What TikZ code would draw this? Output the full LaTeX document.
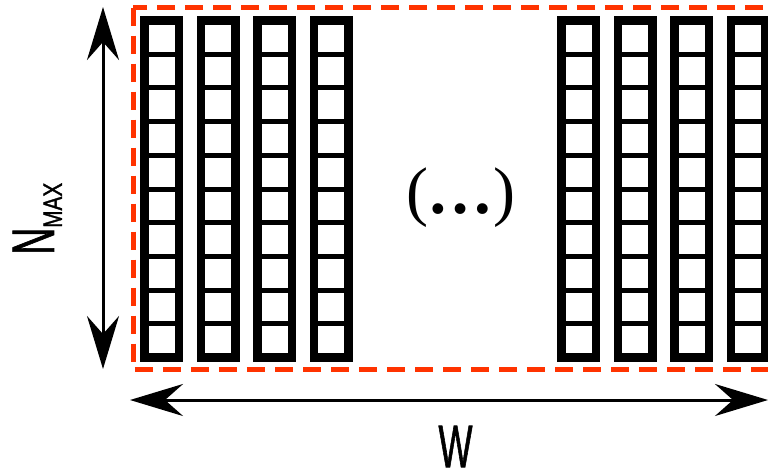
\documentclass[tikz,border=0pt]{standalone}
\usepackage{fontspec}
\setmainfont{Liberation Sans}
\newfontfamily\romana{Liberation Serif}
\newfontfamily\rotulo[FakeBold=1.5]{Liberation Sans}
\usetikzlibrary{arrows.meta}
\definecolor{rojo}{RGB}{255,51,0}

\begin{document}
\begin{tikzpicture}[x=0.5pt, y=-0.5pt,
	columna/.style={line width=4.25pt},
	celda/.style={line width=2.5pt},
	marco/.style={draw=rojo, line width=2.5pt, dash pattern=on 9pt off 5pt},
	cota/.style={line width=1.5pt, {Stealth[length=26.5pt, width=16pt, inset=9pt]}-{Stealth[length=26.5pt, width=16pt, inset=9pt]}}]

\useasboundingbox (0,0) rectangle (768,473);

% Columnas
\foreach \x in {140, 196.5, 253, 309.5, 557, 613.5, 670, 726.5} {
	\draw[columna] ({\x+4.25},20.5) rectangle ({\x+38.75},357.5);
	\foreach \k in {1, 2, ..., 9}
		\draw[celda] ({\x+4.25},{20.5+33.7*\k}) -- ({\x+38.75},{20.5+33.7*\k});
}

% Marco
\draw[marco] (133,7.5) rectangle (772,369.5);

\node (puntos) at (461,198) {\romana\fontsize{33}{33}\selectfont (\textbf{…})};

% Cotas
\coordinate (arriba) at (103,7);
\coordinate (abajo) at (103,369);
\coordinate (izq) at (130,400);
\coordinate (der) at (768,400);
\draw[cota] (arriba) -- (abajo);
\draw[cota] (izq) -- (der);

\node[rotate=90, anchor=base west, inner sep=0pt, font=\rotulo] (nmax) at (54,255)
	{\scalebox{0.62}[1]{\fontsize{30}{30}\selectfont N}\raisebox{-4pt}{\scalebox{0.78}[1]{\fontsize{13.3}{13.3}\selectfont MAX}}};
\node[inner sep=0pt, font=\rotulo] (w) at (455.5,446.5) {\scalebox{0.6}[1]{\fontsize{30}{30}\selectfont W}};

\end{tikzpicture}
\end{document}
